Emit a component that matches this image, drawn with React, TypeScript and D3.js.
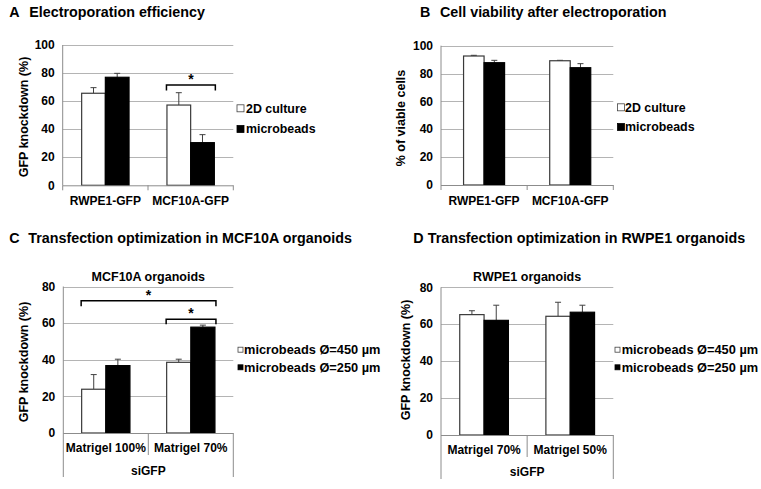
import React from "react";
import * as d3 from "d3";

// ---------- data ----------
const abCategories = ["RWPE1-GFP", "MCF10A-GFP"];
const abSeries = ["2D culture", "microbeads"];

const effic2D = [65.6, 57.2];
const effic2DErr = [4.0, 8.8];
const efficBeads = [77.0, 30.4];
const efficBeadsErr = [2.8, 5.7];

const viab2D = [92.6, 89.2];
const viab2DErr = [0.5, 0.3];
const viabBeads = [87.8, 84.2];
const viabBeadsErr = [1.7, 2.9];

const cdSeries = ["microbeads \u00D8=450 \u00B5m", "microbeads \u00D8=250 \u00B5m"];
const cCategories = ["Matrigel 100%", "Matrigel 70%"];
const dCategories = ["Matrigel 70%", "Matrigel 50%"];
const groupLabel = "siGFP";

const mcf450 = [23.9, 38.6];
const mcf450Err = [8.0, 1.7];
const mcf250 = [36.8, 57.8];
const mcf250Err = [3.5, 1.1];

const rwpe450 = [65.2, 64.3];
const rwpe450Err = [2.1, 7.6];
const rwpe250 = [62.1, 66.5];
const rwpe250Err = [8.2, 3.8];

const ticks100 = [0, 20, 40, 60, 80, 100];
const ticks80 = [0, 20, 40, 60, 80];

// ---------- styles ----------
const FONT = "'Liberation Sans', Arial, Helvetica, sans-serif";
const GRID = "#b4b4b4";
const AXIS = "#8c8c8c";
const BAR_STROKE = "#3a3a3a";
const ERR = "#404040";

type Bracket = { c1: number; s1: number; c2: number; s2: number; top: number; drop: number; starY: number };

type PanelProps = {
  x0: number; x1: number; yBottom: number; yTop: number; yMax: number; ticks: number[];
  categories: string[]; series: string[]; values: number[][]; errors: number[][];
  padOuter: number; yTitle: string; yTitleX: number; yTitleY: number;
  legendX: number; legendTextX: number; legendY: number[]; legendBox: number; legendFont: number;
  multiLevel?: boolean; chartTitle?: string; chartTitleY?: number; brackets?: Bracket[];
  catLabelY: number;
};

function Panel(p: PanelProps) {
  const y = d3.scaleLinear().domain([0, p.yMax]).range([p.yBottom, p.yTop]);
  const xc = d3.scaleBand<string>().domain(p.categories).range([p.x0, p.x1]).padding(0);
  const xs = d3.scaleBand<string>().domain(p.series).range([0, xc.bandwidth()]).paddingInner(0).paddingOuter(p.padOuter);
  const barCenter = (ci: number, si: number) => (xc(p.categories[ci]) as number) + (xs(p.series[si]) as number) + xs.bandwidth() / 2;
  const fills = ["#ffffff", "#000000"];
  return (
    <g>
      {p.ticks.map((t) => (
        <g key={"t" + t}>
          {t > 0 && <line x1={p.x0} x2={p.x1} y1={Math.round(y(t)) + 0.5} y2={Math.round(y(t)) + 0.5} stroke={GRID} strokeWidth={1} />}
          <text x={p.x0 - 8} y={y(t)} dy="0.35em" textAnchor="end" fontFamily={FONT} fontWeight="bold" fontSize={12} fill="#000">{t}</text>
        </g>
      ))}
      {p.categories.map((c, ci) =>
        p.series.map((s, si) => {
          const v = p.values[si][ci];
          const e = p.errors[si][ci];
          const bx = (xc(c) as number) + (xs(s) as number);
          const cx = barCenter(ci, si);
          return (
            <g key={c + s}>
              <line x1={cx} x2={cx} y1={y(v)} y2={y(v + e)} stroke={ERR} strokeWidth={1} />
              <line x1={cx - 3} x2={cx + 3} y1={y(v + e)} y2={y(v + e)} stroke={ERR} strokeWidth={1} />
              <rect x={bx} y={y(v)} width={xs.bandwidth()} height={y(0) - y(v)} fill={fills[si]} stroke={si === 0 ? BAR_STROKE : "#000"} strokeWidth={1.2} />
            </g>
          );
        })
      )}
      {/* axes */}
      <line x1={p.x0} x2={p.x0} y1={p.yTop} y2={p.yBottom} stroke={AXIS} strokeWidth={1} />
      <line x1={p.x0} x2={p.x1} y1={p.yBottom + 0.5} y2={p.yBottom + 0.5} stroke={AXIS} strokeWidth={1} />
      {!p.multiLevel &&
        [p.x0, ...p.categories.map((c) => (xc(c) as number) + xc.bandwidth())].map((bx, i) => (
          <line key={"xt" + i} x1={bx} x2={bx} y1={p.yBottom} y2={p.yBottom + 5} stroke={AXIS} strokeWidth={1} />
        ))}
      {p.multiLevel && (
        <g>
          <line x1={p.x0} x2={p.x0} y1={p.yBottom} y2={p.yBottom + 44} stroke={AXIS} strokeWidth={1} />
          <line x1={p.x1} x2={p.x1} y1={p.yBottom} y2={p.yBottom + 44} stroke={AXIS} strokeWidth={1} />
          {p.categories.slice(1).map((c) => (
            <line key={"m" + c} x1={xc(c) as number} x2={xc(c) as number} y1={p.yBottom} y2={p.yBottom + 22} stroke={AXIS} strokeWidth={1} />
          ))}
          <text x={(p.x0 + p.x1) / 2} y={p.catLabelY + 22.5} textAnchor="middle" fontFamily={FONT} fontWeight="bold" fontSize={12}>{groupLabel}</text>
        </g>
      )}
      {p.categories.map((c) => (
        <text key={"cl" + c} x={(xc(c) as number) + xc.bandwidth() / 2} y={p.catLabelY} textAnchor="middle" fontFamily={FONT} fontWeight="bold" fontSize={12}>{c}</text>
      ))}
      {/* y title */}
      <text transform={`translate(${p.yTitleX},${p.yTitleY}) rotate(-90)`} textAnchor="middle" fontFamily={FONT} fontWeight="bold" fontSize={12.5}>{p.yTitle}</text>
      {p.chartTitle && (
        <text x={(p.x0 + p.x1) / 2} y={p.chartTitleY} textAnchor="middle" fontFamily={FONT} fontWeight="bold" fontSize={12.5}>{p.chartTitle}</text>
      )}
      {/* brackets */}
      {(p.brackets || []).map((b, i) => {
        const xa = barCenter(b.c1, b.s1) - xs.bandwidth() / 2 - 0.5;
        const xb = barCenter(b.c2, b.s2) + xs.bandwidth() / 2 + 1;
        return (
          <g key={"br" + i}>
            <path d={`M${xa},${b.top + b.drop}V${b.top}H${xb}V${b.top + b.drop}`} fill="none" stroke="#000" strokeWidth={1.5} />
            <text x={(xa + xb) / 2} y={b.starY} textAnchor="middle" fontFamily={FONT} fontWeight="bold" fontSize={14}>*</text>
          </g>
        );
      })}
      {/* legend */}
      {p.series.map((s, si) => (
        <g key={"lg" + s}>
          <rect x={p.legendX} y={p.legendY[si] - p.legendBox / 2} width={p.legendBox} height={p.legendBox} fill={fills[si]} stroke={si === 0 ? "#444" : "#000"} strokeWidth={0.8} />
          <text x={p.legendTextX} y={p.legendY[si]} dy="0.36em" fontFamily={FONT} fontWeight="bold" fontSize={p.legendFont}>{s}</text>
        </g>
      ))}
    </g>
  );
}

function Title({ letter, text, x, tx, y }: { letter: string; text: string; x: number; tx: number; y: number }) {
  return (
    <g fontFamily={FONT} fontWeight="bold" fontSize={14.3}>
      <text x={x} y={y}>{letter}</text>
      <text x={tx} y={y}>{text}</text>
    </g>
  );
}

export default function App() {
  return (
    <svg width={761} height={489} viewBox="0 0 761 489" style={{ position: "absolute", left: 0, top: 0, background: "#fff" }}>
      <rect x={0} y={0} width={761} height={489} fill="#fff" />
      <Title letter="A" text="Electroporation efficiency" x={9.3} tx={29.3} y={17.3} />
      <Title letter="B" text="Cell viability after electroporation" x={420} tx={440} y={17.3} />
      <Title letter="C" text="Transfection optimization in MCF10A organoids" x={9.3} tx={28.3} y={243.3} />
      <Title letter="D" text="Transfection optimization in RWPE1 organoids" x={413.3} tx={427.7} y={243.3} />

      <Panel
        x0={62.7} x1={233.3} yBottom={185.3} yTop={45} yMax={100} ticks={ticks100}
        categories={abCategories} series={abSeries}
        values={[effic2D, efficBeads]} errors={[effic2DErr, efficBeadsErr]}
        padOuter={0.8} yTitle="GFP knockdown (%)" yTitleX={27.5} yTitleY={117}
        legendX={237} legendTextX={246} legendY={[108.3, 129]} legendBox={7} legendFont={12.4}
        catLabelY={205}
        brackets={[{ c1: 1, s1: 0, c2: 1, s2: 1, top: 85, drop: 5.5, starY: 84 }]}
      />
      <Panel
        x0={441} x1={613.3} yBottom={185} yTop={45.7} yMax={100} ticks={ticks100}
        categories={abCategories} series={abSeries}
        values={[viab2D, viabBeads]} errors={[viab2DErr, viabBeadsErr]}
        padOuter={1.1} yTitle="% of viable cells" yTitleX={405} yTitleY={118}
        legendX={617.5} legendTextX={625} legendY={[107.3, 127]} legendBox={7} legendFont={12.4}
        catLabelY={205}
      />
      <Panel
        x0={63.3} x1={233.3} yBottom={433} yTop={286.5} yMax={80} ticks={ticks80}
        categories={cCategories} series={cdSeries}
        values={[mcf450, mcf250]} errors={[mcf450Err, mcf250Err]}
        padOuter={0.76} yTitle="GFP knockdown (%)" yTitleX={27.5} yTitleY={362}
        legendX={238} legendTextX={244} legendY={[349.7, 367.3]} legendBox={5} legendFont={12.8}
        multiLevel catLabelY={452.3} chartTitle="MCF10A organoids" chartTitleY={280.5}
        brackets={[
          { c1: 0, s1: 0, c2: 1, s2: 1, top: 300.7, drop: 5.5, starY: 300 },
          { c1: 1, s1: 0, c2: 1, s2: 1, top: 319.3, drop: 5, starY: 318 },
        ]}
      />
      <Panel
        x0={441} x1={613.3} yBottom={435} yTop={287.3} yMax={80} ticks={ticks80}
        categories={dCategories} series={cdSeries}
        values={[rwpe450, rwpe250]} errors={[rwpe450Err, rwpe250Err]}
        padOuter={0.77} yTitle="GFP knockdown (%)" yTitleX={410} yTitleY={360}
        legendX={615} legendTextX={621.7} legendY={[349.7, 367.3]} legendBox={5} legendFont={12.8}
        multiLevel catLabelY={453.7} chartTitle="RWPE1 organoids" chartTitleY={280.5}
      />
    </svg>
  );
}
